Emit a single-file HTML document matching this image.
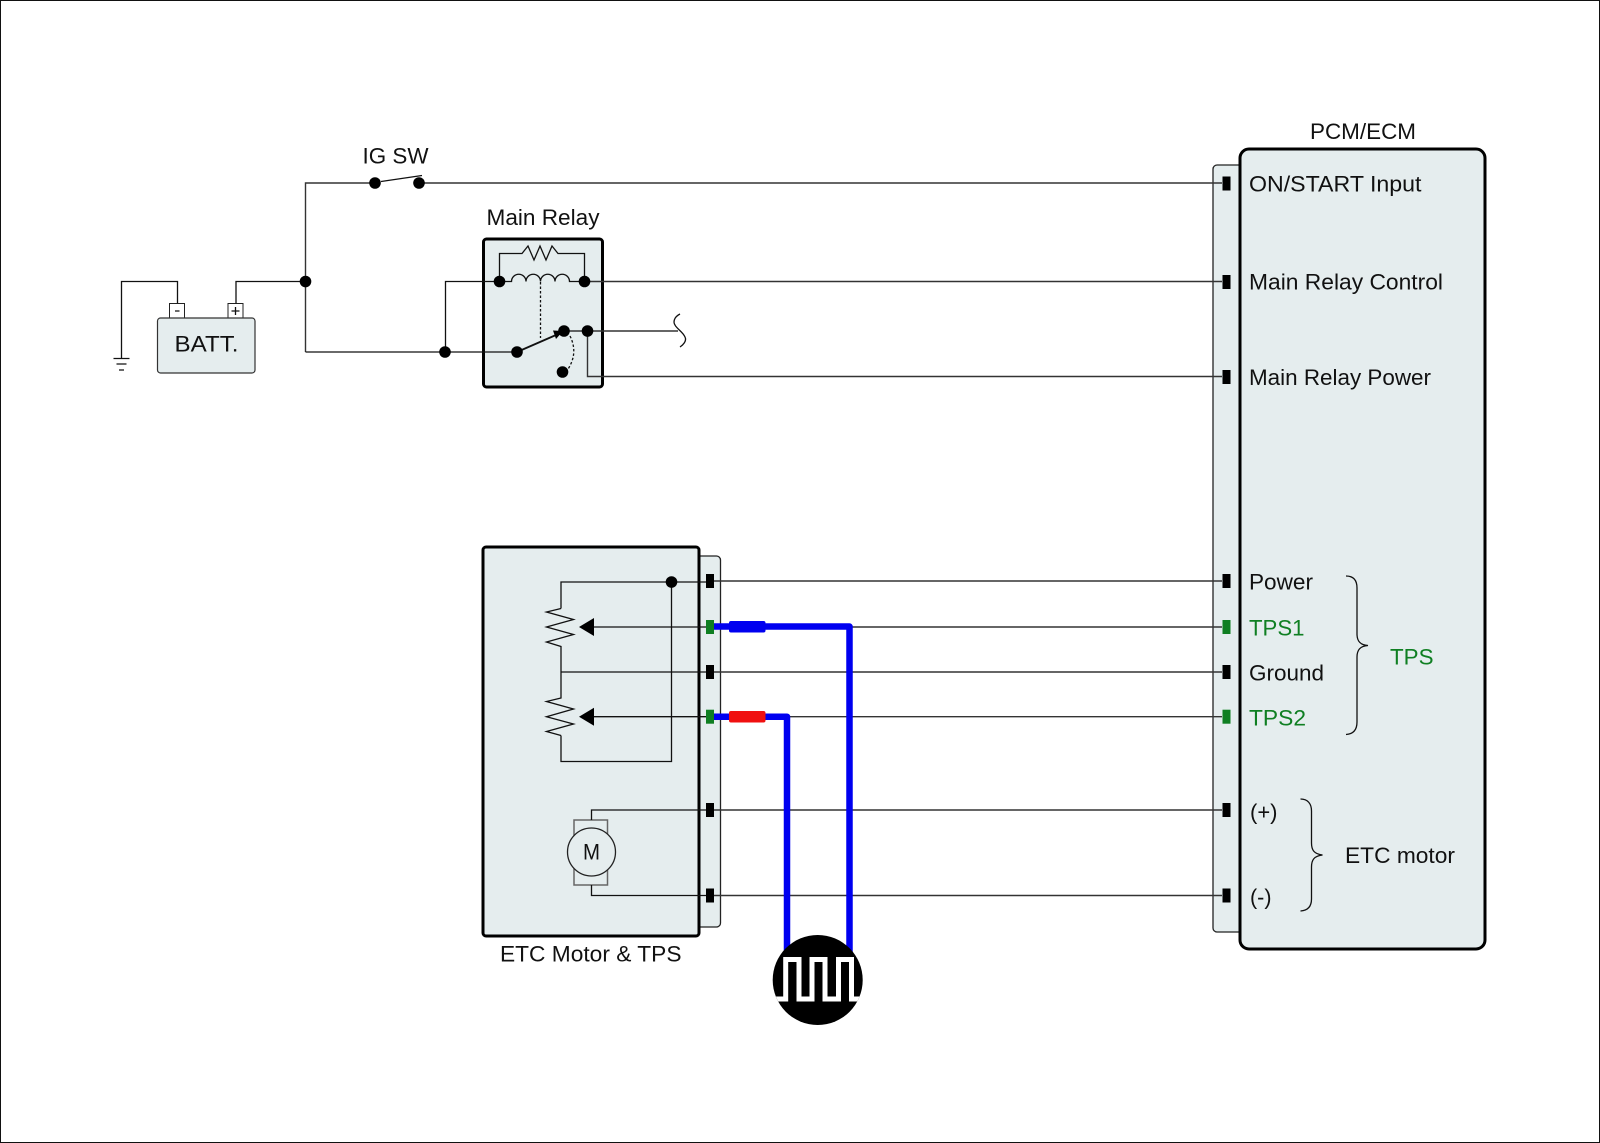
<!DOCTYPE html>
<html><head><meta charset="utf-8"><style>
html,body{margin:0;padding:0;background:#fff}
svg{display:block}
text{font-family:"Liberation Sans",sans-serif;font-size:22px;fill:#111}
.g{fill:#0f7f22}
.w{fill:none;stroke:#333;stroke-width:1.4}
.k{fill:none;stroke:#111;stroke-width:1.3}
.b{fill:#e5edee;stroke:#000;stroke-width:3}
.s{fill:#e5edee;stroke:#222;stroke-width:1.3}
.p{fill:#000}.q{fill:#0f7f22}
</style></head><body>
<svg width="1600" height="1143" viewBox="0 0 1600 1143" xmlns="http://www.w3.org/2000/svg">
<rect x="0.5" y="0.5" width="1599" height="1142" fill="#fff" stroke="#111" stroke-width="1"/>

<!-- PCM -->
<rect class="s" x="1213" y="165" width="40" height="767" rx="4"/>
<rect class="b" x="1240" y="149" width="245" height="800" rx="9"/>

<!-- ETC -->
<rect class="s" x="680" y="556" width="40.500" height="371" rx="4"/>
<rect class="b" x="483" y="547" width="216" height="389" rx="3"/>

<!-- Relay -->
<rect class="b" x="483.500" y="239" width="119" height="148" rx="3"/>

<!-- Battery -->
<rect x="169.500" y="303.500" width="15" height="14.500" fill="#fff" stroke="#222" stroke-width="1"/>
<rect x="228" y="303.500" width="15" height="14.500" fill="#fff" stroke="#222" stroke-width="1"/>
<rect x="157.500" y="318" width="97.500" height="55" rx="3" fill="#e5edee" stroke="#333" stroke-width="1.200"/>
<path d="M175 311H179.500M231.500 311H239.500M235.500 307V315" stroke="#111" stroke-width="1.300" fill="none"/>
<path class="k" d="M121.500 358V281.500H177.500V303.500"/>
<path class="k" d="M113.500 358.500H129.500M116.500 364H126.500M119 370H124"/>
<path class="k" d="M236 303.500V281.500H305.500"/>

<!-- Main wires -->
<path class="w" d="M305.500 352V183H375M419 183H1222"/>
<path class="k" d="M381 181.500L422 175.500" stroke-width="1.500"/>
<path class="k" d="M305.500 352H517M445.500 352V281.500H499.500"/>
<path class="w" d="M584 281.500H1222"/>
<path class="w" d="M564 331H678"/>
<path class="w" d="M587.500 331V376.500H1222"/>
<path class="k" d="M680 314C674 317 673 322 675 325C677 329 683 332 685 337C687 341 683 345 680 347"/>

<!-- Relay internals -->
<path class="k" d="M499.500 281.500V253.500H522L528 246L534 260L540 246L546 260L552 246L558 253.500H584.500V281.500"/>
<path class="k" d="M499.500 281.500H511.500A7.200 7.200 0 0 1 526 281.500A7.200 7.200 0 0 1 540.500 281.500A7.200 7.200 0 0 1 555 281.500A7.200 7.200 0 0 1 569.500 281.500H584"/>
<path class="k" d="M540.500 282V338" stroke-dasharray="2.500 2"/>
<path class="k" d="M570 336C576 348 575 360 566 372" stroke-dasharray="2.500 2"/>
<path d="M517 352L556 335" stroke="#111" stroke-width="1.800" fill="none"/>
<path class="p" d="M563 331L553 330.500L556 339Z"/>
<g class="p">
<circle cx="375" cy="183" r="5.800"/><circle cx="419" cy="183" r="5.800"/>
<circle cx="305.500" cy="281.500" r="5.800"/><circle cx="445" cy="352" r="5.800"/>
<circle cx="499.500" cy="281.500" r="5.800"/><circle cx="584.500" cy="281.500" r="5.800"/>
<circle cx="517" cy="352" r="5.800"/><circle cx="564" cy="331" r="5.800"/>
<circle cx="587.500" cy="331" r="5.800"/><circle cx="562.500" cy="372" r="5.800"/>
</g>

<!-- ETC internals -->
<path class="k" d="M561 608.500V582H706M671.500 582V761.500H561V735.500"/>
<path class="k" d="M561 608.500L546.500 612L573.500 619.500L546.500 627L573.500 634.500L546.500 642L561 646.500V698L546.500 701.500L573.500 709L546.500 716.700L573.500 724L546.500 731.500L561 735.500"/>
<path class="k" d="M561 672H706"/>
<path class="k" d="M594 627H706M594 716.700H706"/>
<path class="p" d="M579 627L594 618V636Z"/>
<path class="p" d="M579 716.700L594 707.700V725.700Z"/>
<circle class="p" cx="671.500" cy="582" r="5.800"/>
<rect x="574" y="820" width="33.500" height="65" fill="none" stroke="#666" stroke-width="1.500"/>
<circle cx="591.500" cy="852" r="24" fill="#e5edee" stroke="#222" stroke-width="1.300"/>
<path class="k" d="M591.500 820V810H706M591.500 885V895.500H706"/>

<!-- Cross wires -->
<path class="w" d="M714 581H1222M714 627H1222M714 672H1222M714 716.700H1222M714 810H1222M714 895.500H1222"/>

<!-- Blue probes -->
<path d="M714 626.500H849.500V965" fill="none" stroke="#0000f0" stroke-width="6.500" stroke-linejoin="round"/>
<path d="M714 716.700H787V965" fill="none" stroke="#0000f0" stroke-width="6.500" stroke-linejoin="round"/>
<rect x="729" y="621" width="36.500" height="11.500" rx="2" fill="#0000f0"/>
<rect x="729" y="711" width="36.500" height="11.500" rx="2" fill="#f01010"/>

<!-- Oscilloscope -->
<clipPath id="c"><circle cx="817.700" cy="980" r="45"/></clipPath>
<circle cx="817.700" cy="980" r="45" fill="#000"/>
<path clip-path="url(#c)" d="M770 999H785.700V959.500H799V999H812V959.500H825V999H838.500V959.500H851.500V999H866" fill="none" stroke="#fff" stroke-width="5"/>

<!-- Pins -->
<g class="p">
<rect x="1222.500" y="176.500" width="8" height="14"/>
<rect x="1222.500" y="275" width="8" height="14"/>
<rect x="1222.500" y="370" width="8" height="14"/>
<rect x="1222.500" y="574" width="8" height="14"/>
<rect x="1222.500" y="665" width="8" height="14"/>
<rect x="1222.500" y="803" width="8" height="14"/>
<rect x="1222.500" y="888.500" width="8" height="14"/>
<rect x="706" y="574" width="8" height="14"/>
<rect x="706" y="665" width="8" height="14"/>
<rect x="706" y="803" width="8" height="14"/>
<rect x="706" y="888.500" width="8" height="14"/>
</g>
<g class="q">
<rect x="1222.500" y="620" width="8" height="14"/>
<rect x="1222.500" y="709.700" width="8" height="14"/>
<rect x="706" y="620" width="8" height="14"/>
<rect x="706" y="709.700" width="8" height="14"/>
</g>

<!-- Braces -->
<path class="k" d="M1346 576C1354 576 1357 581 1357 588V634C1357 641 1360 645 1368 645.500C1360 646 1357 650 1357 657V722C1357 729 1354 734 1346 734.500"/>
<path class="k" d="M1300.500 799C1308 799 1311.500 804 1311.500 811V843C1311.500 850 1314 854 1322.500 855C1314 856 1311.500 860 1311.500 867V899C1311.500 906 1308 910.500 1300.500 911"/>

<!-- Text -->
<text x="362.500" y="163.500" textLength="66" lengthAdjust="spacingAndGlyphs">IG SW</text>
<text x="486.500" y="225" textLength="113" lengthAdjust="spacingAndGlyphs">Main Relay</text>
<text x="174.500" y="351.500" textLength="64" lengthAdjust="spacingAndGlyphs">BATT.</text>
<text x="1310" y="139" textLength="106" lengthAdjust="spacingAndGlyphs">PCM/ECM</text>
<text x="1249" y="191.500" textLength="172.500" lengthAdjust="spacingAndGlyphs">ON/START Input</text>
<text x="1249" y="289.500" textLength="194" lengthAdjust="spacingAndGlyphs">Main Relay Control</text>
<text x="1249" y="385" textLength="182" lengthAdjust="spacingAndGlyphs">Main Relay Power</text>
<text x="1249" y="589.500" textLength="64" lengthAdjust="spacingAndGlyphs">Power</text>
<text class="g" x="1249" y="635.500" textLength="55.500" lengthAdjust="spacingAndGlyphs">TPS1</text>
<text x="1249" y="680.500" textLength="75" lengthAdjust="spacingAndGlyphs">Ground</text>
<text class="g" x="1249" y="725.500" textLength="57" lengthAdjust="spacingAndGlyphs">TPS2</text>
<text class="g" x="1390" y="664.500" textLength="43.500" lengthAdjust="spacingAndGlyphs">TPS</text>
<text x="1250" y="819.500" textLength="27.500" lengthAdjust="spacingAndGlyphs">(+)</text>
<text x="1250" y="904.500" textLength="21.500" lengthAdjust="spacingAndGlyphs">(-)</text>
<text x="1345" y="863" textLength="110" lengthAdjust="spacingAndGlyphs">ETC motor</text>
<text x="500" y="961.500" textLength="181.500" lengthAdjust="spacingAndGlyphs">ETC Motor &amp; TPS</text>
<text x="583" y="859.500" textLength="17" lengthAdjust="spacingAndGlyphs">M</text>
</svg>
</body></html>
